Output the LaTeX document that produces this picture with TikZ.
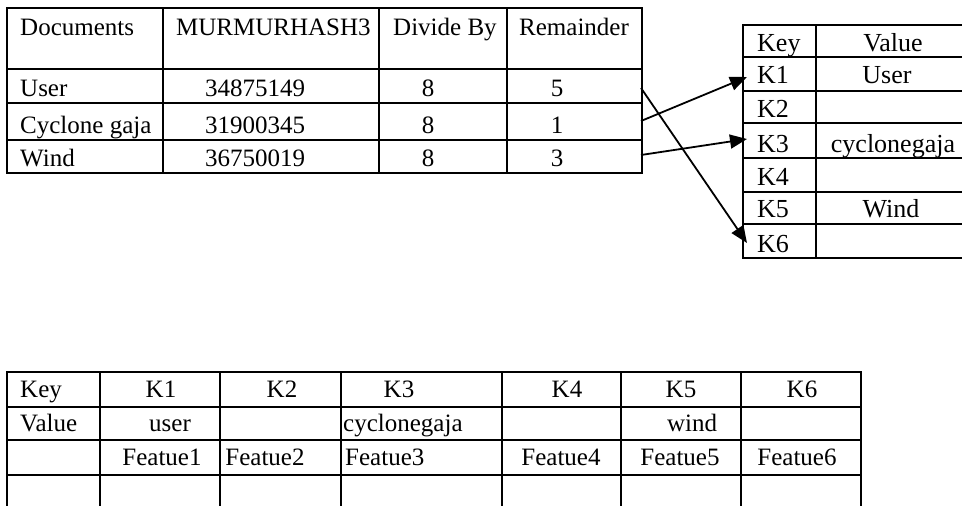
\documentclass[tikz,border=0pt]{standalone}
\usepackage{fontspec}
\setmainfont{Liberation Serif}
\usetikzlibrary{arrows.meta}
\tikzset{
  grid/.style={line width=2pt, line cap=rect},
  txt/.style={inner sep=0pt, anchor=base, font=\fontsize{25}{28}\selectfont},
  bigtxt/.style={txt, font=\fontsize{26}{30}\selectfont},
  ltxt/.style={txt, anchor=base west},
  lbigtxt/.style={bigtxt, anchor=base west},
  conn/.style={line width=1.8pt, -{Triangle[length=17pt,width=14pt]}},
}
\begin{document}
\begin{tikzpicture}[x=1pt,y=-1pt]
\useasboundingbox (0,0) rectangle (962,506);
% ---------- Table 1 ----------
\draw[grid] (7,8) rectangle (642,173);
\foreach \yy in {69,103,140} \draw[grid] (7,\yy) -- (642,\yy);
\foreach \xx in {163,379,507} \draw[grid] (\xx,8) -- (\xx,173);
\node[ltxt] (hdoc) at (20,35) {Documents};
\node[ltxt] (hmur) at (176,35) {MURMURHASH3};
\node[ltxt] (hdiv) at (393,35) {Divide By};
\node[ltxt] (hrem) at (519,35) {Remainder};
\node[ltxt] (d1) at (20,96) {User};
\node[ltxt] (d2) at (20,133) {Cyclone gaja};
\node[ltxt] (d3) at (20,166) {Wind};
\node[txt] (m1) at (255,96) {34875149};
\node[txt] (m2) at (255,133) {31900345};
\node[txt] (m3) at (255,166) {36750019};
\node[txt] (v1) at (428,96) {8};
\node[txt] (v2) at (428,133) {8};
\node[txt] (v3) at (428,166) {8};
\node[txt] (r1t) at (557,96) {5};
\node[txt] (r2t) at (557,133) {1};
\node[txt] (r3t) at (557,166) {3};
\coordinate (r1) at (641,88);
\coordinate (r2) at (641,121);
\coordinate (r3) at (641,155);
% ---------- Table 2 ----------
\draw[grid] (962,25) -- (743,25) -- (743,258) -- (962,258);
\draw[grid] (816,25) -- (816,258);
\foreach \yy in {57,91,123,158,192,224} \draw[grid] (743,\yy) -- (962,\yy);
\node[lbigtxt] (tkey) at (757,51) {Key};
\node[lbigtxt] (tk1) at (757,83) {K1};
\node[lbigtxt] (tk2) at (757,117) {K2};
\node[lbigtxt] (tk3) at (757,152) {K3};
\node[lbigtxt] (tk4) at (757,185) {K4};
\node[lbigtxt] (tk5) at (757,217) {K5};
\node[lbigtxt] (tk6) at (757,252) {K6};
\node[bigtxt] (tval) at (893,51) {Value};
\node[bigtxt] (tv1) at (887,83) {User};
\node[bigtxt] (tv3) at (893,152) {cyclonegaja};
\node[bigtxt] (tv5) at (891,217) {Wind};
\coordinate (k1) at (747,77);
\coordinate (k3) at (747,139);
\coordinate (k6) at (747,243);
% ---------- Arrows ----------
\draw[conn] (r1) -- (k6);
\draw[conn] (r2) -- (k1);
\draw[conn] (r3) -- (k3);
% ---------- Table 3 ----------
\foreach \yy in {372,407,440,475} \draw[grid] (7,\yy) -- (861,\yy);
\foreach \xx in {7,100,220,341,502,621,741,861} \draw[grid] (\xx,372) -- (\xx,507);
\node[ltxt] (bkey) at (20,397) {Key};
\node[txt] (bk1) at (161,397) {K1};
\node[txt] (bk2) at (282,397) {K2};
\node[txt] (bk3) at (399,397) {K3};
\node[txt] (bk4) at (567,397) {K4};
\node[txt] (bk5) at (681,397) {K5};
\node[txt] (bk6) at (802,397) {K6};
\node[ltxt] (bval) at (20,431) {Value};
\node[txt] (bv1) at (170,431) {user};
\node[ltxt] (bv3) at (343,431) {cyclonegaja};
\node[txt] (bv5) at (692,431) {wind};
\node[txt] (bf1) at (162,465) {Featue1};
\node[txt] (bf2) at (265,465) {Featue2};
\node[ltxt] (bf3) at (345,465) {Featue3};
\node[txt] (bf4) at (561,465) {Featue4};
\node[txt] (bf5) at (680,465) {Featue5};
\node[txt] (bf6) at (797,465) {Featue6};
\end{tikzpicture}
\end{document}
